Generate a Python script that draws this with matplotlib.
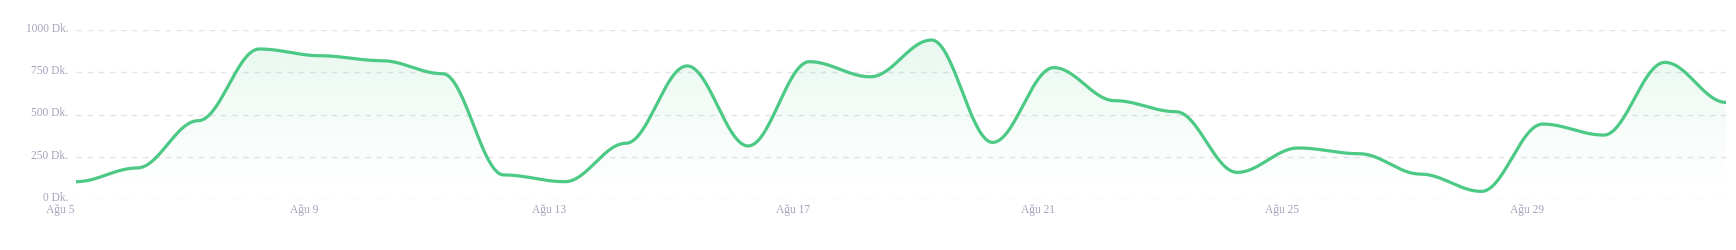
import numpy as np
import matplotlib
matplotlib.use("Agg")
import matplotlib.pyplot as plt
import matplotlib.transforms as mtransforms
from matplotlib.patches import Polygon

# veriler (dakika, Ağu 5 - Eyl 1)
days = list(range(28))
minutes = [105, 186, 465, 888, 848, 819, 742, 145, 105, 332, 788, 316, 813, 724,
           941, 337, 778, 583, 518, 160, 304, 270, 150, 48, 445, 380, 809, 573]
tick_days = [0, 4, 8, 12, 16, 20, 24]
tick_labels = ["Ağu 5", "Ağu 9", "Ağu 13", "Ağu 17", "Ağu 21", "Ağu 25", "Ağu 29"]
y_ticks = [0, 250, 500, 750, 1000]
y_labels = ["0 Dk.", "250 Dk.", "500 Dk.", "750 Dk.", "1000 Dk."]

LINE = "#4cc985"
TEXT = "#a3a3bb"


def smooth(x, y, c=0.36, n=60):
    # her noktada yatay teğetli bezier eğrisi
    px, py = [], []
    t = np.linspace(0, 1, n)
    for i in range(len(x) - 1):
        x0, x1 = x[i], x[i + 1]
        y0, y1 = y[i], y[i + 1]
        dx = x1 - x0
        bx = ((1 - t) ** 3 * x0 + 3 * (1 - t) ** 2 * t * (x0 + c * dx)
              + 3 * (1 - t) * t ** 2 * (x1 - c * dx) + t ** 3 * x1)
        by = ((1 - t) ** 3 * y0 + 3 * (1 - t) ** 2 * t * y0
              + 3 * (1 - t) * t ** 2 * y1 + t ** 3 * y1)
        px.append(bx)
        py.append(by)
    return np.concatenate(px), np.concatenate(py)


xs, ys = smooth(days, minutes)

fig = plt.figure(figsize=(17.36, 2.5), dpi=100)
ax = fig.add_axes([76 / 1736, 1 - 199.5 / 250, 1650 / 1736, 169.5 / 250])
ax.set_xlim(days[0], days[-1])
ax.set_ylim(0, 1000)

# gradyan dolgu
grad = np.linspace(0, 1, 256)
rgba = np.zeros((256, 1, 4))
rgba[..., :3] = matplotlib.colors.to_rgb(LINE)
rgba[:, 0, 3] = 0.14 * np.clip((grad - 0.05) / 0.95, 0, 1) ** 1.2
img = ax.imshow(rgba, extent=[days[0], days[-1], 0, 1000], origin="lower",
                aspect="auto", zorder=1)
poly = Polygon(np.column_stack([np.r_[xs, xs[-1], xs[0]], np.r_[ys, 0, 0]]),
               closed=True, transform=ax.transData)
img.set_clip_path(poly)

ax.plot(xs, ys, color=LINE, lw=2.3, zorder=3, solid_capstyle="round")

for v in y_ticks:
    ax.axhline(v, color="#e3e3ea", lw=1, dashes=(4, 4), zorder=0)

for s in ax.spines.values():
    s.set_visible(False)
ax.set_yticks(y_ticks)
ax.set_yticklabels(y_labels)
ax.set_xticks(tick_days)
ax.set_xticklabels(tick_labels)
ax.tick_params(length=0, colors=TEXT, labelsize=8.3)
ax.tick_params(axis="y", pad=5.5)
ax.tick_params(axis="x", pad=3.5)
for lab in ax.get_yticklabels() + ax.get_xticklabels():
    lab.set_fontfamily("Liberation Serif")
xoff = mtransforms.ScaledTranslation(-16 / 100, 0, fig.dpi_scale_trans)
for lab in ax.get_xticklabels():
    lab.set_transform(lab.get_transform() + xoff)
yoff = mtransforms.ScaledTranslation(0, 3 / 100, fig.dpi_scale_trans)
for lab in ax.get_yticklabels():
    lab.set_transform(lab.get_transform() + yoff)

fig.savefig("out.png", dpi=100, facecolor="white")
